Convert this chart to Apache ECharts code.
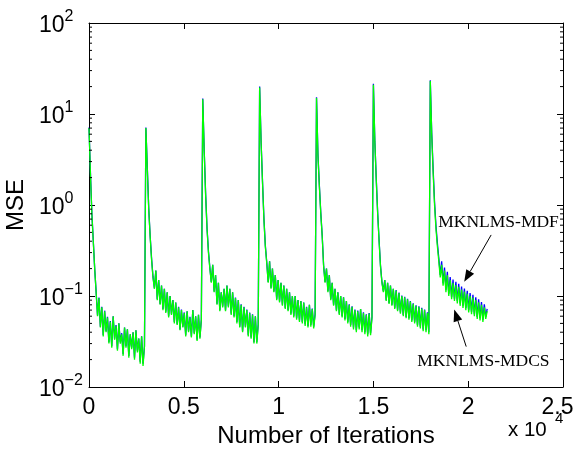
<!DOCTYPE html>
<html><head><meta charset="utf-8">
<script src="https://cdn.jsdelivr.net/npm/echarts@6/dist/echarts.min.js"></script>
<style>html,body{margin:0;padding:0;background:#fff}#c{width:581px;height:458px}</style>
</head><body><div id="c"></div>
<script>
// iteration spacing of the sampled values
const step = 75;
// MKNLMS-MDCS (green)
const mdcs = [
 7.0,2.2,0.8,0.4,0.2,0.11,0.06,0.095,0.045,0.075,0.036,0.068,0.04,0.058,0.03,0.052,0.027,0.06,0.033,0.047,0.025,0.05,0.03,0.038,0.022,0.045,0.027,0.043,0.021,0.038,0.026,0.04,0.02,0.042,0.024,0.034,0.018,0.036,0.017,0.028,
 7.0,2.5,0.9,0.45,0.25,0.16,0.12,0.19,0.09,0.15,0.08,0.13,0.07,0.12,0.065,0.11,0.058,0.1,0.062,0.09,0.05,0.085,0.048,0.075,0.042,0.07,0.045,0.065,0.036,0.068,0.04,0.058,0.035,0.07,0.038,0.06,0.032,0.062,0.034,0.055,
 14.5,4.0,1.3,0.55,0.3,0.2,0.14,0.22,0.11,0.17,0.08,0.14,0.068,0.11,0.075,0.12,0.068,0.13,0.075,0.12,0.062,0.11,0.058,0.095,0.05,0.09,0.045,0.08,0.04,0.075,0.045,0.07,0.036,0.065,0.034,0.062,0.03,0.06,0.03,0.048,
 19.6,5.0,1.8,0.7,0.35,0.23,0.14,0.24,0.12,0.2,0.11,0.17,0.09,0.15,0.085,0.14,0.078,0.13,0.072,0.12,0.068,0.11,0.062,0.1,0.058,0.1,0.055,0.09,0.052,0.088,0.05,0.085,0.047,0.075,0.045,0.08,0.046,0.072,0.044,0.062,
 15,3.5,1.6,0.8,0.45,0.21,0.14,0.2,0.11,0.17,0.09,0.14,0.078,0.12,0.068,0.11,0.062,0.1,0.058,0.097,0.054,0.088,0.05,0.08,0.046,0.076,0.043,0.07,0.04,0.068,0.043,0.072,0.04,0.065,0.038,0.062,0.036,0.064,0.037,0.058,
 21,5.0,1.9,0.8,0.4,0.21,0.14,0.11,0.15,0.088,0.14,0.082,0.13,0.078,0.12,0.072,0.115,0.068,0.108,0.064,0.1,0.06,0.097,0.057,0.092,0.055,0.087,0.052,0.082,0.05,0.078,0.046,0.076,0.044,0.073,0.041,0.07,0.04,0.065,0.038,
 23,6.0,2.3,1.0,0.55,0.35,0.24,0.16,0.22,0.13,0.19,0.11,0.17,0.1,0.15,0.092,0.14,0.088,0.132,0.083,0.126,0.078,0.118,0.074,0.112,0.07,0.106,0.066,0.1,0.063,0.096,0.06,0.09,0.056,0.085,0.054,0.08,0.052,0.075,0.056,0.068
];
// MKNLMS-MDF (blue)
const mdf = [
 7.1,2.3,0.82,0.41,0.2,0.112,0.061,0.096,0.046,0.076,0.037,0.069,0.041,0.059,0.031,0.053,0.028,0.06,0.034,0.048,0.026,0.05,0.031,0.039,0.023,0.045,0.028,0.043,0.022,0.038,0.027,0.04,0.021,0.042,0.025,0.034,0.019,0.036,0.018,0.028,
 7.1,2.6,0.92,0.46,0.26,0.163,0.122,0.19,0.092,0.15,0.082,0.13,0.072,0.12,0.067,0.11,0.06,0.1,0.063,0.09,0.052,0.085,0.049,0.076,0.043,0.071,0.046,0.066,0.037,0.068,0.041,0.059,0.036,0.07,0.039,0.06,0.033,0.062,0.035,0.055,
 14.8,4.1,1.35,0.56,0.31,0.204,0.143,0.22,0.112,0.17,0.082,0.14,0.07,0.11,0.077,0.12,0.07,0.13,0.077,0.12,0.064,0.11,0.06,0.096,0.052,0.09,0.046,0.081,0.041,0.076,0.046,0.071,0.037,0.066,0.035,0.063,0.031,0.06,0.031,0.049,
 20,5.1,1.85,0.72,0.36,0.235,0.143,0.24,0.123,0.2,0.112,0.17,0.092,0.15,0.087,0.14,0.08,0.13,0.074,0.12,0.07,0.11,0.064,0.1,0.06,0.1,0.057,0.09,0.054,0.088,0.052,0.085,0.049,0.076,0.047,0.08,0.048,0.073,0.046,0.063,
 15.3,3.6,1.65,0.82,0.46,0.215,0.143,0.2,0.113,0.17,0.092,0.14,0.08,0.12,0.07,0.11,0.064,0.1,0.06,0.097,0.056,0.088,0.052,0.081,0.048,0.077,0.045,0.071,0.042,0.069,0.045,0.072,0.042,0.066,0.04,0.063,0.038,0.065,0.039,0.059,
 21.5,5.1,1.95,0.82,0.41,0.215,0.143,0.113,0.15,0.09,0.14,0.084,0.13,0.08,0.12,0.074,0.116,0.07,0.109,0.066,0.101,0.062,0.098,0.059,0.093,0.057,0.088,0.054,0.083,0.052,0.079,0.048,0.077,0.046,0.074,0.043,0.071,0.042,0.066,0.04,
 23.5,6.3,2.5,1.08,0.59,0.38,0.26,0.17,0.24,0.138,0.206,0.117,0.184,0.106,0.162,0.097,0.152,0.093,0.143,0.088,0.136,0.083,0.127,0.078,0.121,0.074,0.114,0.07,0.108,0.067,0.103,0.063,0.097,0.059,0.092,0.057,0.086,0.055,0.081,0.059,0.072
];
// minor tick values of the log axis
const minorTickValues = [0.02,0.03,0.04,0.05,0.06,0.07,0.08,0.09,0.2,0.3,0.4,0.5,0.6,0.7,0.8,0.9,2,3,4,5,6,7,8,9,20,30,40,50,60,70,80,90];
// annotations: text anchor [x, y], arrow tail [x, y], arrow tip [x, y]
const annotations = [
 {text:'MKNLMS-MDF', at:[18421, 0.651], tail:[21210, 0.469], tip:[19790, 0.143]},
 {text:'MKNLMS-MDCS', at:[17316, 0.0193], tail:[19895, 0.0278], tip:[19263, 0.071]}
];

const SANS = "'Liberation Sans', Arial, Helvetica, sans-serif";
const SERIF = "'Liberation Serif', 'Times New Roman', serif";
const toPairs = arr => arr.map((v, i) => [i * step, v]);

const chart = echarts.init(document.getElementById('c'), null, {renderer:'canvas'});
const axisLine = {show:true, onZero:false, lineStyle:{color:'#000', width:1}};
const yLabel = v => {
  const e = Math.round(Math.log10(v));
  return '{b|10}{s|' + (e < 0 ? '\u2212' + (-e) : e) + '}';
};
const xLabel = v => v === 25000 ? '{r|2.5}' : String(v / 10000);
chart.setOption({
  animation:false,
  backgroundColor:'#fff',
  grid:{left:89, right:18, top:23, bottom:71, containLabel:false, outerBoundsMode:'none'},
  xAxis:[
    {type:'value', min:0, max:25000, interval:5000, position:'bottom',
     axisLine, axisTick:{inside:true, length:6, lineStyle:{color:'#000'}},
     axisLabel:{formatter:xLabel, fontSize:23, color:'#000', margin:9, fontFamily:SANS,
       rich:{r:{fontSize:23, fontFamily:SANS, color:'#000', padding:[0,11,0,0]}}},
     splitLine:{show:false},
     name:'Number of Iterations', nameLocation:'middle', nameGap:26,
     nameTextStyle:{fontSize:24, color:'#000', fontFamily:SANS}},
    {type:'value', min:0, max:25000, interval:5000, position:'top',
     axisLine, axisTick:{inside:true, length:6, lineStyle:{color:'#000'}},
     axisLabel:{show:false}, splitLine:{show:false}}
  ],
  yAxis:[
    {type:'log', logBase:10, min:0.01, max:100, position:'left',
     axisLine, axisTick:{inside:true, length:6, lineStyle:{color:'#000'}},
     axisLabel:{formatter:yLabel, margin:50, align:'left', color:'#000',
       rich:{b:{fontSize:23, lineHeight:28, verticalAlign:'bottom', fontFamily:SANS, color:'#000'},
             s:{fontSize:16, lineHeight:16, verticalAlign:'top', fontFamily:SANS, color:'#000'}}},
     splitLine:{show:false},
     name:'MSE', nameLocation:'middle', nameGap:57, nameRotate:90,
     nameTextStyle:{fontSize:24, color:'#000', fontFamily:SANS}},
    {type:'log', logBase:10, min:0.01, max:100, position:'right',
     axisLine, axisTick:{inside:true, length:6, lineStyle:{color:'#000'}},
     axisLabel:{show:false}, splitLine:{show:false}}
  ],
  series:[
    {name:'MKNLMS-MDF', type:'line', data:toPairs(mdf), showSymbol:false, symbol:'none',
     lineStyle:{color:'#0000ff', width:1.3}, xAxisIndex:0, yAxisIndex:0},
    {name:'MKNLMS-MDCS', type:'line', data:toPairs(mdcs), showSymbol:false, symbol:'none',
     lineStyle:{color:'#00ff00', width:1.3}, xAxisIndex:0, yAxisIndex:0},
    {type:'custom', xAxisIndex:0, yAxisIndex:0, silent:true, clip:false, z:10,
     data:minorTickValues.map(v => [0, v]),
     renderItem(params, api){
       const v = api.value(1);
       const l = api.coord([0, v]);
       const r = api.coord([25000, v]);
       return {type:'group', children:[
         {type:'line', shape:{x1:l[0], y1:l[1], x2:l[0]+3, y2:l[1]}, style:{stroke:'#000', lineWidth:1}},
         {type:'line', shape:{x1:r[0], y1:r[1], x2:r[0]-3, y2:r[1]}, style:{stroke:'#000', lineWidth:1}}
       ]};
     }}
  ]
});

// annotations and the "x 10^4" multiplier, positioned through the axes' scales
const g = [];
annotations.forEach(a => {
  const p = chart.convertToPixel({gridIndex:0}, a.at);
  const t = chart.convertToPixel({gridIndex:0}, a.tail);
  const h = chart.convertToPixel({gridIndex:0}, a.tip);
  g.push({type:'text', x:p[0], y:p[1], style:{text:a.text, fontSize:17.5, fontFamily:SERIF, fill:'#000', align:'left', verticalAlign:'middle'}});
  const dx = h[0]-t[0], dy = h[1]-t[1], L = Math.hypot(dx, dy);
  const ux = dx/L, uy = dy/L, hl = 12, hw = 4.5;
  const bx = h[0]-ux*hl, by = h[1]-uy*hl;
  g.push({type:'line', shape:{x1:t[0], y1:t[1], x2:bx, y2:by}, style:{stroke:'#000', lineWidth:1}});
  g.push({type:'polygon', shape:{points:[[h[0],h[1]],[bx-uy*hw, by+ux*hw],[bx+uy*hw, by-ux*hw]]}, style:{fill:'#000'}});
});
const corner = chart.convertToPixel({gridIndex:0}, [25000, 0.01]);
g.push({type:'text', x:corner[0]-55, y:corner[1]+54,
  style:{text:'x 10', fontSize:20.5, fontFamily:SANS, fill:'#000', align:'left', verticalAlign:'bottom'}});
g.push({type:'text', x:corner[0]-8, y:corner[1]+24,
  style:{text:'4', fontSize:15, fontFamily:SANS, fill:'#000', align:'left', verticalAlign:'top'}});
chart.setOption({graphic:g});
</script>
</body></html>
